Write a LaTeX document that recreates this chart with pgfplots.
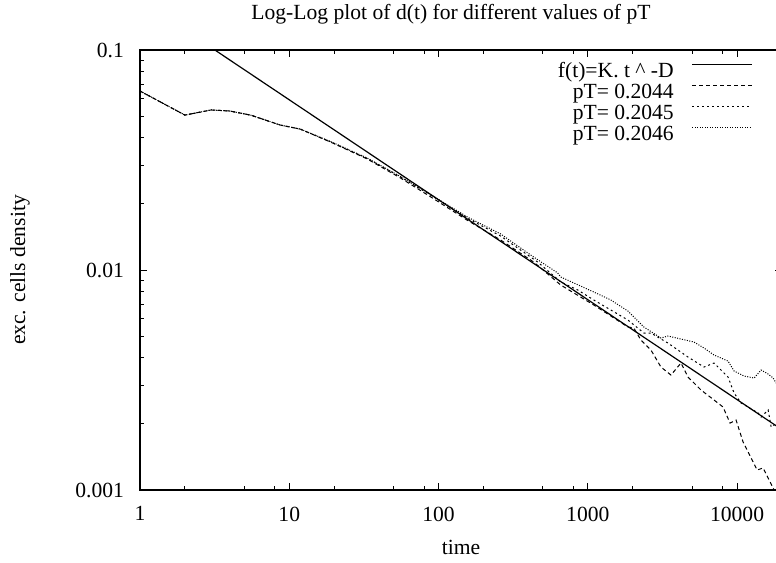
\documentclass[border=0pt]{standalone}
\usepackage{fontspec}
\setmainfont{Liberation Serif}
\usepackage{pgfplots}
\pgfplotsset{compat=1.18}

\begin{document}
% 1 px of the reference = 0.5pt
\begin{tikzpicture}
\useasboundingbox (0,0) rectangle (388pt,281pt);
\clip (0,0) rectangle (388pt,281pt);
\begin{axis}[
    at={(70pt,36pt)}, anchor=south west,
    scale only axis, width=321pt, height=220pt,
    xmode=log, ymode=log, xmin=1, xmax=20000, ymin=0.001, ymax=0.1,
    xtick={1,10,100,1000,10000}, xticklabels={1,10,100,1000,10000},
    minor xtick={2,5,8,20,50,80,200,500,800,2000,5000,8000},
    ytick={0.001,0.01,0.1}, yticklabels={0.001,0.01,0.1},
    minor ytick={0.002,0.003,0.004,0.005,0.006,0.007,0.008,0.009,
                 0.02,0.03,0.04,0.05,0.06,0.07,0.08,0.09},
    tick align=inside, major tick length=3.5pt, minor tick length=2pt,
    tick style={black, line width=0.5pt},
    axis line style={black, line width=0.6pt},
    tick label style={font=\fontsize{10.8}{13}\selectfont},
    xticklabel style={yshift=-4.8pt},
    yticklabel style={xshift=-4.5pt},
    label style={font=\fontsize{10.8}{13}\selectfont},
    title={Log-Log plot of d(t) for different values of pT},
    title style={font=\fontsize{10.8}{13}\selectfont,
      at={(axis description cs:0.4844,1.054)}, anchor=center},
    xlabel={time},
    xlabel style={at={(axis description cs:0.5,-0.131)}, anchor=center},
    ylabel={exc. cells density},
    ylabel style={at={(axis description cs:-0.187,0.5)}, anchor=center},
    legend plot pos=right, legend cell align=right,
    legend style={at={(axis description cs:0.9548,0.975)}, anchor=north east,
      draw=none, fill=none, inner sep=0pt, outer sep=0pt, row sep=0pt,
      font=\fontsize{10.8}{13}\selectfont,
      nodes={inner sep=0pt, text height=8pt, text depth=2.5pt},
      /tikz/every odd column/.append style={column sep=9pt}},
    legend image code/.code={\draw[#1] (0pt,3.5pt) -- (30pt,3.5pt);},
    every axis plot/.append style={black, line width=0.5pt},
  ]

% fitted power law f(t) = K t^-D, K ~ 0.169, D ~ 0.454
\addplot[line width=0.6pt] coordinates {(1,0.169) (20000,0.00188)};
\addlegendentry{f(t)=K. t \textasciicircum{} -D}

% pT = 0.2044
\addplot[dash pattern=on 2pt off 1.5pt] coordinates {
  (1,0.0651) (2,0.0506) (3,0.0534) (4,0.0528) (5.5,0.0506) (8.7,0.0456)
  (11.85,0.0437) (18.84,0.0382) (33.2,0.0320) (55.6,0.0262) (92.6,0.0211)
  (156.5,0.0168) (260.7,0.01369) (434.1,0.01087) (658.8,0.008545)
  (1097,0.006934) (1856,0.005506) (2035,0.005449) (2268,0.004805)
  (2648,0.004329) (3090,0.003622) (3606,0.003332) (4209,0.003777)
  (4690,0.003262) (5734,0.002848) (7008,0.002565) (8054,0.002383)
  (8974,0.002015) (9846,0.002080) (10973,0.001652) (12226,0.001427)
  (13624,0.001233) (14947,0.001259) (16655,0.001088) (17989,0.0009793)};
\addlegendentry{pT= 0.2044}

% pT = 0.2045
\addplot[dash pattern=on 1pt off 1.5pt] coordinates {
  (1,0.0651) (2,0.0506) (3,0.0534) (4,0.0528) (5.5,0.0506) (8.7,0.0456)
  (11.85,0.0437) (18.84,0.0383) (33.2,0.0322) (55.6,0.0265) (92.6,0.0215)
  (156.5,0.0172) (260.7,0.01427) (461.7,0.01087) (658.8,0.008820)
  (856.8,0.008111) (1097,0.007305) (1427,0.006579) (1856,0.005926)
  (2376,0.005170) (2648,0.005170) (3443,0.004656) (4690,0.004021)
  (6004,0.003622) (7008,0.003777) (8700,0.003262) (9548,0.002760)
  (10638,0.002485) (11853,0.002383) (13837,0.002239) (14494,0.002147)
  (16148,0.002310) (16915,0.001934) (18556,0.002015)};
\addlegendentry{pT= 0.2045}

% pT = 0.2046
\addplot[dash pattern=on 0.5pt off 0.75pt] coordinates {
  (1,0.0651) (2,0.0506) (3,0.0534) (4,0.0528) (5.5,0.0506) (8.7,0.0456)
  (11.85,0.0437) (18.84,0.0384) (33.2,0.0323) (55.6,0.0266) (92.6,0.0216)
  (156.5,0.0174) (260.7,0.01458) (414.4,0.01170) (629.0,0.009691)
  (658.8,0.009294) (1097,0.007943) (1427,0.007305) (1856,0.006510)
  (2376,0.005506) (3090,0.004907) (3443,0.005012) (4209,0.004856)
  (5145,0.004705) (6004,0.004418) (7008,0.004108) (8700,0.003857)
  (9548,0.003474) (11143,0.003297) (13006,0.003228) (14494,0.003511)
  (16148,0.003367) (17447,0.003228) (18270,0.003063)};
\addlegendentry{pT= 0.2046}

\end{axis}
\end{tikzpicture}
\end{document}
